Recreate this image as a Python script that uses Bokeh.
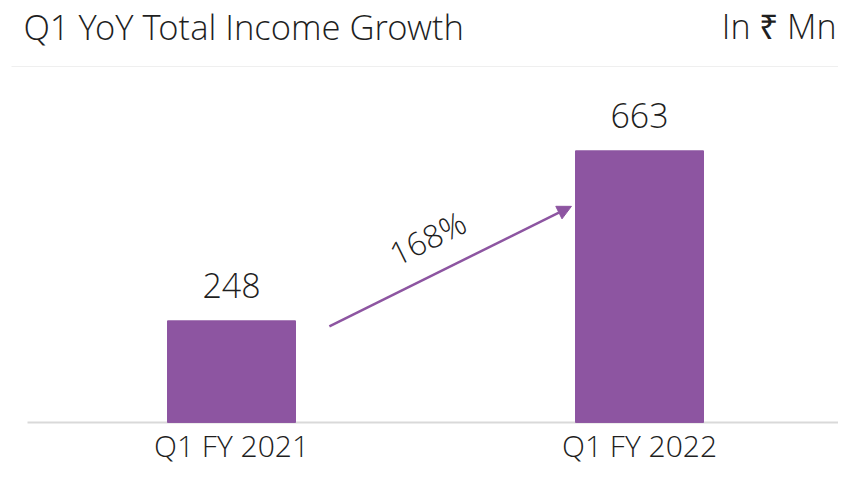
import math
from bokeh.plotting import figure
from bokeh.models import ColumnDataSource, Range1d, Label, Arrow, NormalHead
from bokeh.core.properties import value
from bokeh.embed import file_html
from bokeh.resources import INLINE

# data
categories = ["Q1 FY 2021", "Q1 FY 2022"]
income = [248, 663]
growth_label = "168%"
title_text = "Q1 YoY Total Income Growth"
unit_text = "In \u20b9 Mn"

PURPLE = "#8D55A1"
TEXT = "#1f1f1f"
FONT = "Open Sans Light"

xs = [i + 0.5 for i in range(len(categories))]
src = ColumnDataSource(dict(x=xs, val=income, txt=[str(v) for v in income]))

W, H = 838, 467
X_START, X_END = -0.0662, 1.9877
Y_START, Y_END = -110, 1030
p = figure(width=W, height=H, output_backend="svg", toolbar_location=None,
           x_range=Range1d(X_START, X_END), y_range=Range1d(Y_START, Y_END), min_border=0)
p.outline_line_color = None
p.grid.visible = False
p.axis.visible = False
p.background_fill_color = "white"
p.border_fill_color = "white"

px_x = W / (X_END - X_START)
px_y = H / (Y_END - Y_START)
ASC = 0.38  # em shift of the alphabetic baseline in rendering

# baseline along the category domain
p.segment(x0=[0], x1=[len(categories)], y0=[0], y1=[0], line_color="#d9d9d9", line_width=2)

bw = 0.3137
p.vbar(x="x", top="val", width=bw, source=src, fill_color=PURPLE, line_color=PURPLE)
p.text(x="x", y="val", text="txt", source=src, text_align="center", text_baseline="alphabetic",
       y_offset=-22 - ASC * 34, text_font=value(FONT), text_font_size="34px", text_color=TEXT)

for xv, c in zip(xs, categories):
    p.add_layout(Label(x=xv, y=-(34 - ASC * 30) / px_y, text=c, text_align="center",
                       text_baseline="alphabetic",
                       text_font=FONT, text_font_size="30px", text_color=TEXT))

# growth arrow between bars
x0 = xs[0] + bw / 2 + 0.083
x1 = xs[1] - bw / 2 - 0.010
y0 = income[0] * 0.945
y1 = income[1] * 0.7956
p.add_layout(Arrow(end=NormalHead(size=14, fill_color=PURPLE, line_color=PURPLE),
                   x_start=x0, y_start=y0, x_end=x1, y_end=y1,
                   line_color=PURPLE, line_width=2.5))
ang = math.atan2((y1 - y0) * px_y, (x1 - x0) * px_x)
p.add_layout(Label(x=(x0 + x1) / 2 - 0.056, y=(y0 + y1) / 2 + 63 + 3 / px_y, text=growth_label,
                   angle=ang, text_align="center", text_baseline="middle",
                   text_font=FONT, text_font_size="32px", text_color=TEXT))

# header
p.segment(x0=[-16 / px_x], x1=[X_END], y0=[869], y1=[869], line_color="#efefef", line_width=1)
p.add_layout(Label(x=-0.01, y=935 + ASC * 34.6 / px_y, text=title_text, text_align="left",
                   text_baseline="alphabetic",
                   text_font=FONT, text_font_size="34.6px", text_color=TEXT))
p.add_layout(Label(x=X_END - 2 / px_x, y=935 + ASC * 34 / px_y, text=unit_text, text_align="right",
                   text_baseline="alphabetic",
                   text_font=FONT, text_font_size="34px", text_color=TEXT))

open("out.html", "w").write(file_html(p, INLINE))
